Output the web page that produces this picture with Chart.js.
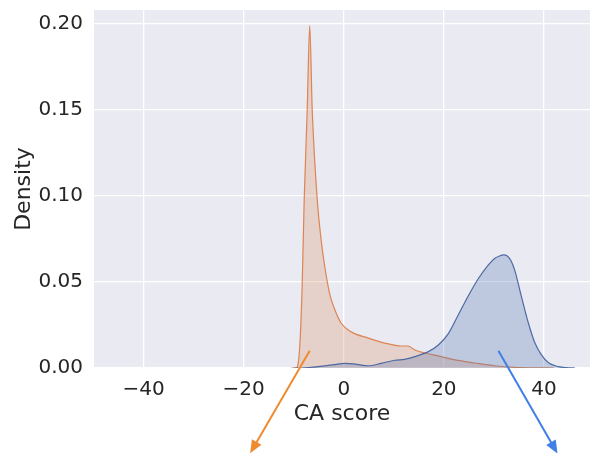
<!DOCTYPE html>
<html>
<head>
<meta charset="utf-8">
<script src="https://cdn.jsdelivr.net/npm/chart.js@4.4.1/dist/chart.umd.min.js"></script>
<style>
  html, body { margin: 0; padding: 0; background: #fff; }
  #wrap { width: 590px; height: 455px; }
</style>
</head>
<body>
<div id="wrap"><canvas id="kdeChart" width="590" height="455"></canvas></div>
<script>
// density curves
const orangeX = [-10.5, -9.5, -8.8, -8.3, -7.9, -7.3, -6.8, -6.3, -5.3, -4.5, -3.8, -2.8, -1.8, -0.5, 1.5, 4.9, 8.2, 11.5, 12.8, 14.2, 16.2, 18.8, 22.2, 26.2, 30.2, 34.2, 38, 42];
const orangeY = [0, 0, 0.012, 0.049, 0.098, 0.15, 0.199, 0.15, 0.098, 0.074, 0.059, 0.043, 0.034, 0.026, 0.021, 0.0174, 0.0145, 0.0128, 0.0128, 0.0105, 0.0087, 0.007, 0.0047, 0.0029, 0.0013, 0.0004, 0.0001, 0];

const blueX = [-10, -9.4, -7, -5.1, -1.8, 0.2, 2.2, 4.9, 7.5, 10.2, 12.2, 14.2, 16.9, 18.9, 20.9, 22.9, 24.9, 26.9, 28.9, 30.2, 31.2, 31.9, 32.6, 33.4, 34.2, 35.5, 36.9, 38.2, 39.5, 40.9, 42.9, 44.5, 46.2];
const blueY = [0, 0, 0.0003, 0.0008, 0.002, 0.0027, 0.0023, 0.0013, 0.0027, 0.0045, 0.005, 0.0066, 0.0095, 0.0134, 0.02, 0.031, 0.042, 0.052, 0.06, 0.0638, 0.0652, 0.0657, 0.0652, 0.0625, 0.0565, 0.0415, 0.026, 0.0145, 0.0076, 0.003, 0.0008, 0.0002, 0];

const xTicks = [-40, -20, 0, 20, 40];
const yTicks = [0, 0.05, 0.10, 0.15, 0.20];

// arrows below the axes, in data units: [x, y]
const arrows = [
    { from: [-6.8, 0.010], to: [-18.7, -0.0495], color: '#ef8a2e' },
    { from: [30.9, 0.010], to: [42.7, -0.0497], color: '#3f7fe6' }
];

const toPoints = (xs, ys) => xs.map((x, i) => ({ x: x, y: ys[i] }));

const textColor = '#262626';
const fontFamily = '"DejaVu Sans", sans-serif';

// grey plot background
const plotBg = {
    id: 'plotBg',
    beforeDraw(chart) {
        const { ctx, chartArea: a } = chart;
        ctx.save();
        ctx.fillStyle = '#eaeaf2';
        ctx.fillRect(a.left, a.top, a.right - a.left, a.bottom - a.top);
        ctx.restore();
    }
};

// the two annotation arrows
const arrowPlugin = {
    id: 'arrowPlugin',
    afterDraw(chart) {
        const { ctx, scales } = chart;
        arrows.forEach(a => {
            const x0 = scales.x.getPixelForValue(a.from[0]);
            const y0 = scales.y.getPixelForValue(a.from[1]);
            const x1 = scales.x.getPixelForValue(a.to[0]);
            const y1 = scales.y.getPixelForValue(a.to[1]);
            const ang = Math.atan2(y1 - y0, x1 - x0);
            const headLen = 13, headW = 5.5;
            ctx.save();
            ctx.strokeStyle = a.color;
            ctx.fillStyle = a.color;
            ctx.lineWidth = 2;
            ctx.beginPath();
            ctx.moveTo(x0, y0);
            ctx.lineTo(x1 - Math.cos(ang) * headLen * 0.8, y1 - Math.sin(ang) * headLen * 0.8);
            ctx.stroke();
            ctx.beginPath();
            ctx.moveTo(x1, y1);
            ctx.lineTo(x1 - Math.cos(ang) * headLen + Math.sin(ang) * headW, y1 - Math.sin(ang) * headLen - Math.cos(ang) * headW);
            ctx.lineTo(x1 - Math.cos(ang) * headLen - Math.sin(ang) * headW, y1 - Math.sin(ang) * headLen + Math.cos(ang) * headW);
            ctx.closePath();
            ctx.fill();
            ctx.restore();
        });
    }
};

let chart = new Chart(document.getElementById('kdeChart').getContext('2d'), {
    type: 'line',
    data: {
        datasets: [{
            label: 'blue',
            data: toPoints(blueX, blueY),
            borderColor: 'rgba(70, 100, 160, 0.95)',
            backgroundColor: 'rgba(76, 114, 176, 0.28)',
            borderWidth: 1.2,
            fill: 'origin',
            pointRadius: 0,
            cubicInterpolationMode: 'monotone'
        }, {
            label: 'orange',
            data: toPoints(orangeX, orangeY),
            borderColor: 'rgba(221, 132, 82, 1)',
            backgroundColor: 'rgba(221, 132, 82, 0.25)',
            borderWidth: 1.2,
            fill: 'origin',
            pointRadius: 0,
            cubicInterpolationMode: 'monotone'
        }]
    },
    options: {
        responsive: false,
        animation: false,
        layout: { padding: { top: 10, right: 0, left: 0, bottom: 0 } },
        plugins: {
            legend: { display: false },
            tooltip: { enabled: false }
        },
        scales: {
            x: {
                type: 'linear',
                min: -49.9,
                max: 49.2,
                afterBuildTicks: s => { s.ticks = xTicks.map(v => ({ value: v })); },
                afterFit: s => { s.height = 87; s.paddingLeft = 0; s.paddingRight = 0; },
                grid: { color: '#ffffff', lineWidth: 1.3, drawTicks: false },
                border: { display: false },
                ticks: {
                    padding: 10,
                    color: textColor,
                    font: { family: fontFamily, size: 20 },
                    callback: v => String(v).replace('-', '\u2212')
                },
                title: {
                    display: true,
                    text: 'CA score',
                    color: textColor,
                    font: { family: fontFamily, size: 22 },
                    padding: { top: 0, bottom: 28 }
                }
            },
            y: {
                min: 0,
                max: 0.2081,
                afterBuildTicks: s => { s.ticks = yTicks.map(v => ({ value: v })); },
                afterFit: s => { s.width = 94; s.paddingTop = 0; s.paddingBottom = 0; },
                grid: { color: '#ffffff', lineWidth: 1.3, drawTicks: false },
                border: { display: false },
                ticks: {
                    padding: 11,
                    color: textColor,
                    font: { family: fontFamily, size: 20 },
                    callback: v => v.toFixed(2)
                },
                title: {
                    display: true,
                    text: 'Density',
                    color: textColor,
                    font: { family: fontFamily, size: 22 },
                    padding: { top: 11, bottom: 0 }
                }
            }
        }
    },
    plugins: [plotBg, arrowPlugin]
});
</script>
</body>
</html>
